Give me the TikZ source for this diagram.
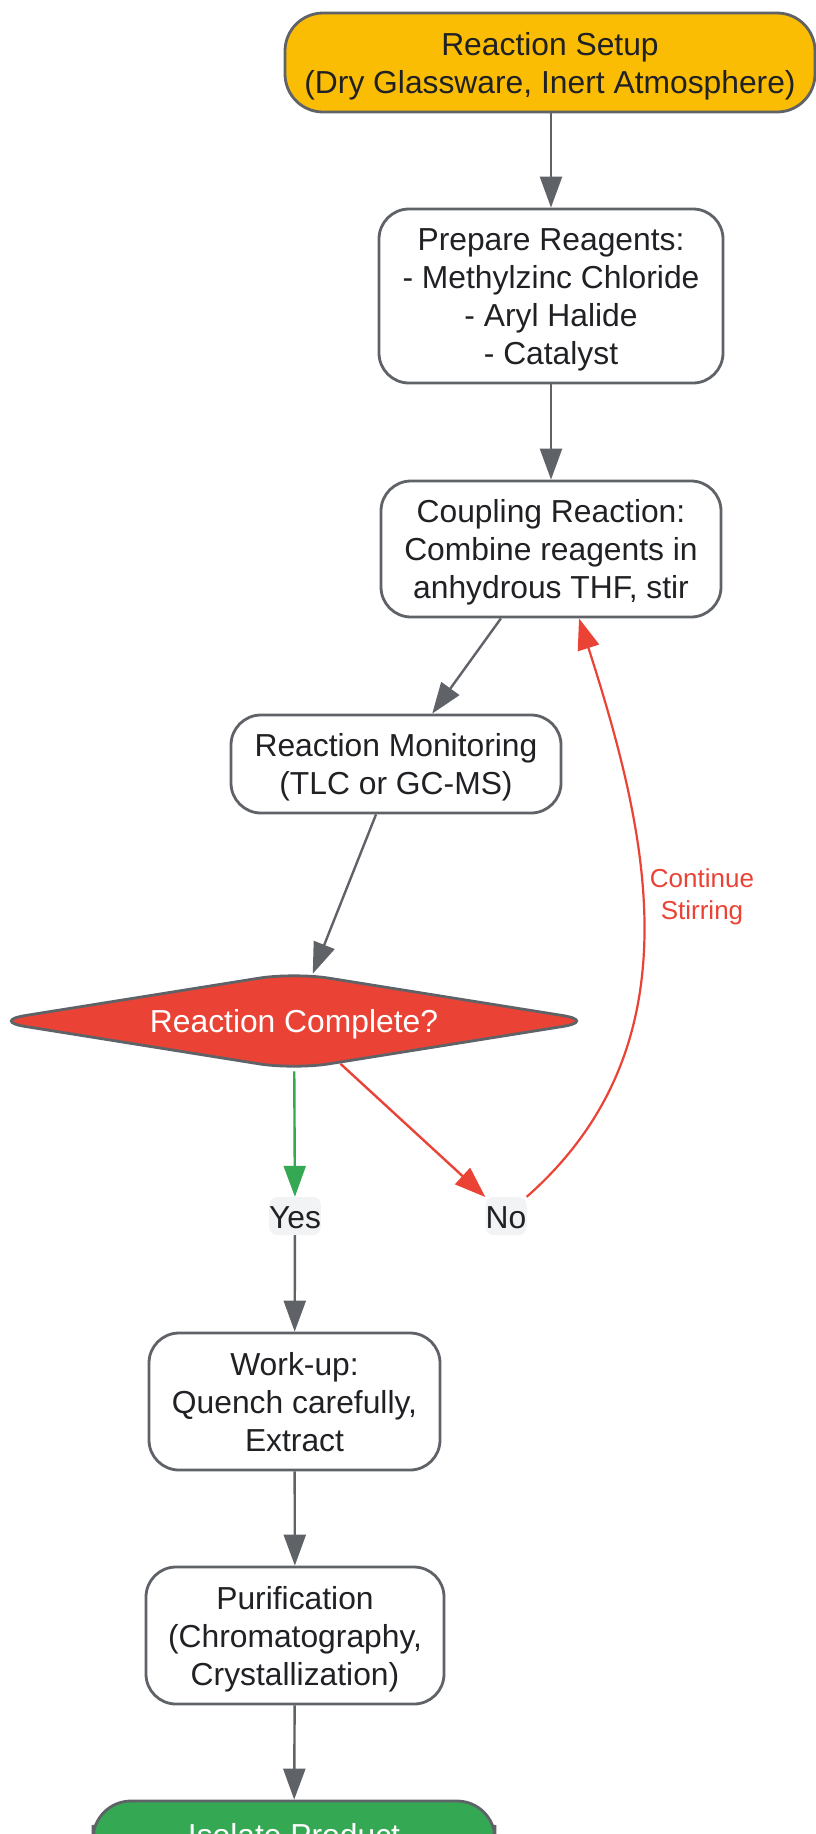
\documentclass[tikz,border=0pt]{standalone}
\usepackage{fontspec}
\setmainfont{Liberation Sans}
\usetikzlibrary{arrows.meta,shapes.geometric}
\definecolor{strokegray}{HTML}{5F6368}
\definecolor{txt}{HTML}{202124}
\definecolor{gyellow}{HTML}{FBBC04}
\definecolor{gred}{HTML}{EA4335}
\definecolor{ggreen}{HTML}{34A853}
\definecolor{lblbg}{HTML}{F1F3F4}
\newcommand\mainfs{\fontsize{31.8}{38}\selectfont}
\newcommand\lblfs{\fontsize{26}{32}\selectfont}
\newcommand\tallstrut{\rule{0pt}{30pt}}
\newcommand\midstrut{\rule{0pt}{25pt}}
\tikzset{
  box/.style={draw=strokegray, line width=2.8pt, fill=white, rounded corners=30pt,
    align=center, text=txt, inner sep=0pt, font=\mainfs},
  termbox/.style={box, rounded corners=38pt},
  decbox/.style={diamond, draw=strokegray, line width=2.8pt, fill=gred, text=white,
    rounded corners=35pt, inner sep=0pt, font=\mainfs, aspect=6,
    execute at begin node={\rule{0pt}{30pt}}},
  tagbox/.style={fill=lblbg, rounded corners=8pt, inner sep=0pt, text=txt,
    font=\mainfs, minimum height=38pt, execute at begin node={\rule{0pt}{25pt}}},
  arr/.style={draw=strokegray, line width=2.4pt, -{Triangle[length=31pt,width=22pt]}},
}
\begin{document}
\begin{tikzpicture}[x=1pt,y=-1pt]
\useasboundingbox (0,0) rectangle (816,1834);
\fill[white] (0,0) rectangle (816,1834);

\node[termbox, fill=gyellow, minimum width=530pt, minimum height=99pt] (top) at (550,62.5)
  {\tallstrut Reaction Setup\\(Dry Glassware, Inert Atmosphere)};
\node[box, minimum width=344pt, minimum height=174pt] (prep) at (551,296)
  {\tallstrut Prepare Reagents:\\- Methylzinc Chloride\\- Aryl Halide\\- Catalyst};
\node[box, minimum width=340pt, minimum height=136pt] (coupling) at (551,549)
  {\tallstrut Coupling Reaction:\\Combine reagents in\\anhydrous THF, stir};
\node[box, minimum width=330pt, minimum height=98pt] (monitor) at (396,764)
  {\tallstrut Reaction Monitoring\\(TLC or GC-MS)};
\node[decbox, minimum width=607pt, minimum height=98pt] (dec) at (294,1021)
  {Reaction Complete?};
\node[tagbox, minimum width=51pt] (yes) at (295,1216) {Yes};
\node[tagbox, minimum width=41pt] (no) at (506,1216) {No};
\node[box, minimum width=291pt, minimum height=137pt] (workup) at (294.5,1401.5)
  {\midstrut Work-up:\\Quench carefully,\\Extract};
\node[box, minimum width=298pt, minimum height=137pt] (purif) at (295,1635.5)
  {\tallstrut Purification\\(Chromatography,\\Crystallization)};
\node[termbox, fill=ggreen, text=white, minimum width=402pt, minimum height=62pt] (isolate) at (294,1832)
  {\tallstrut Isolate Product};

\draw[arr] (prep.north |- top.south) -- (prep.north);
\draw[arr] (prep) -- (coupling);
\draw[arr] (coupling) -- (monitor);
\draw[arr] (monitor) -- (dec);
\draw[arr, draw=ggreen] (dec) -- (yes);
\draw[arr, draw=gred] (dec) -- (no);
\draw[arr, draw=gred, line width=2.2pt] (no.north east) .. controls (700,1044) and (647,831) .. (coupling.-68);
\node[font=\lblfs, text=gred, align=center, inner sep=0pt] (lbl) at (702,896.5) {Continue\\Stirring};
\draw[arr] (yes) -- (workup);
\draw[arr] (workup) -- (purif);
\draw[arr] (purif) -- (isolate);
\end{tikzpicture}
\end{document}
